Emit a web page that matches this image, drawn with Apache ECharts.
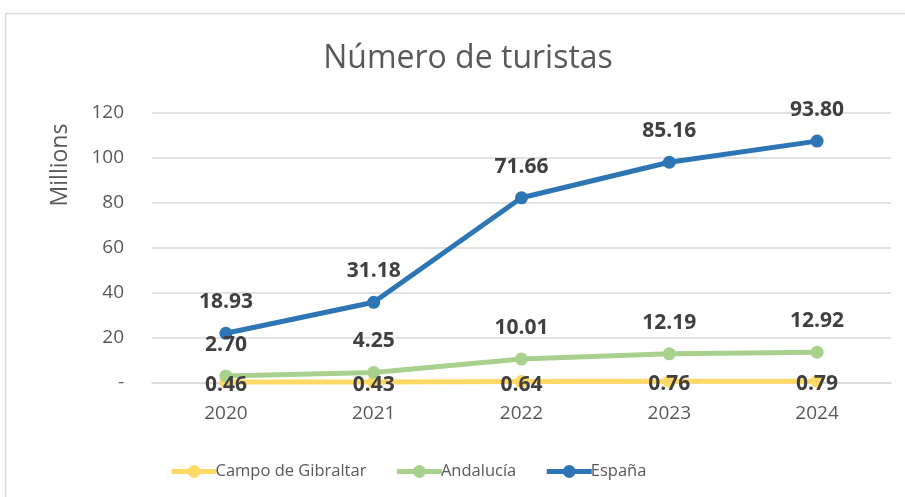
<!DOCTYPE html>
<html>
<head>
<meta charset="utf-8">
<script src="https://cdn.jsdelivr.net/npm/echarts@6/dist/echarts.min.js"></script>
<style>html,body{margin:0;padding:0;background:#fff;}#c{width:905px;height:497px;}</style>
</head>
<body>
<div id="c"></div>
<script>
const categories = ['2020', '2021', '2022', '2023', '2024'];
const campoGibraltar = [0.46, 0.43, 0.64, 0.76, 0.79];
const andalucia = [2.70, 4.25, 10.01, 12.19, 12.92];
const espana = [18.93, 31.18, 71.66, 85.16, 93.80];
const seriesNames = ['Campo de Gibraltar', 'Andalucía', 'España'];
const yTicks = { min: 0, max: 120, interval: 20 };

const FONT = '"Open Sans", "Noto Sans", sans-serif';
const labelBase = {
  show: true,
  fontFamily: FONT,
  fontWeight: 'bold',
  fontSize: 21,
  color: '#404040',
  formatter: p => Number(p.value).toFixed(2)
};
function mk(name, data, color, pos, dist, offset) {
  return {
    name: name,
    type: 'line',
    stack: 'total',
    data: data,
    symbol: 'circle',
    symbolSize: 13,
    lineStyle: { width: 5, color: color },
    itemStyle: { color: color },
    label: Object.assign({}, labelBase, { position: pos, distance: dist, offset: offset }),
    emphasis: { disabled: true }
  };
}
const chart = echarts.init(document.getElementById('c'));
chart.setOption({
  animation: false,
  backgroundColor: '#fff',
  title: {
    text: 'Número de turistas',
    left: 463,
    textAlign: 'center',
    top: 38,
    textStyle: { fontFamily: FONT, fontWeight: 'normal', fontSize: 32, color: '#595959' }
  },
  graphic: [
    { type: 'rect', shape: { x: 5.5, y: 13.5, width: 920, height: 520 }, style: { fill: 'none', stroke: '#d9d9d9', lineWidth: 1.5 }, silent: true, z: -1 },
    { type: 'text', x: 60, y: 165, rotation: Math.PI / 2,
      style: { text: 'Millions', fontFamily: FONT, fontSize: 23, fill: '#595959', align: 'center', verticalAlign: 'middle' } }
  ],
  legend: {
    data: seriesNames,
    left: 164,
    top: 458,
    itemWidth: 45,
    itemHeight: 16,
    itemGap: 28,
    lineStyle: { width: 5 },
    textStyle: { fontFamily: FONT, fontSize: 16.5, color: '#595959', padding: [0, 0, 0, -6] }
  },
  grid: { left: 152, right: 14, top: 113, bottom: 114, containLabel: false },
  xAxis: {
    type: 'category',
    data: categories,
    boundaryGap: true,
    axisLine: { show: true, lineStyle: { color: '#d9d9d9', width: 1.5 } },
    axisTick: { show: false },
    axisLabel: { fontFamily: FONT, fontSize: 19, color: '#595959', margin: 21 }
  },
  yAxis: {
    type: 'value',
    min: yTicks.min,
    max: yTicks.max,
    interval: yTicks.interval,
    axisLine: { show: false },
    axisTick: { show: false },
    splitLine: { lineStyle: { color: '#d9d9d9', width: 1.5 } },
    axisLabel: { fontFamily: FONT, fontSize: 19, color: '#595959', margin: 28,
      formatter: v => v === 0 ? '-' : String(v) }
  },
  series: [
    mk(seriesNames[0], campoGibraltar, '#FFD966', 'inside', 0, [0, 3]),
    mk(seriesNames[1], andalucia, '#A9D18E', 'top', 14, [0, 0]),
    mk(seriesNames[2], espana, '#2E75B6', 'top', 14, [0, 0])
  ]
});
</script>
</body>
</html>
